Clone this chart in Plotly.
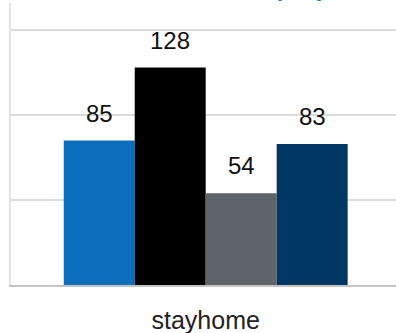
import plotly.graph_objects as go

categories = ["stayhome"]
series_names = ["Series A", "Series B", "Series C", "Series D"]
series_values = [[85], [128], [54], [83]]
series_colors = ["#0a6ebd", "#000000", "#5f6469", "#003763"]
title_text = "Company"

BARGAP = 0.271
FONT = "Liberation Sans, Arial, sans-serif"

fig = go.Figure()
for name, vals, col in zip(series_names, series_values, series_colors):
    fig.add_trace(go.Bar(
        x=categories, y=vals, name=name, marker_color=col,
        marker_line_width=0,
    ))

# value labels above each bar
n = len(series_values)
bw = (1 - BARGAP) / n
annotations = []
for ci, cat in enumerate(categories):
    for i, vals in enumerate(series_values):
        annotations.append(dict(
            x=ci - (1 - BARGAP) / 2 + (i + 0.5) * bw, y=vals[ci],
            xref="x", yref="y", text=str(vals[ci]), showarrow=False,
            yanchor="bottom", yshift=12,
            font=dict(family=FONT, size=24, color="#111111"),
        ))

annotations.append(dict(
    text="<b>" + title_text + "</b>", xref="paper", yref="paper",
    x=(226 - 11) / 385, y=1, xanchor="left", yanchor="bottom",
    showarrow=False, yshift=0,
    font=dict(size=22, color="#1a78cc", family=FONT),
))

fig.update_layout(
    width=396, height=333,
    margin=dict(l=11, r=0, t=3, b=48),
    paper_bgcolor="white", plot_bgcolor="white",
    barmode="group", bargap=BARGAP, bargroupgap=0,
    showlegend=False,
    font=dict(family=FONT),
    xaxis=dict(
        type="category", range=[-0.5, 0.4887],
        showline=True, linecolor="#c4c4c4", linewidth=2,
        showgrid=False, ticks="", ticklabelstandoff=12,
        tickfont=dict(size=25, color="#222222"),
    ),
    yaxis=dict(
        range=[0, 166], dtick=50, showticklabels=False,
        showgrid=True, gridcolor="#dcdcdc", gridwidth=1.5,
        showline=True, linecolor="#e2e2e2", linewidth=1.5,
        zeroline=False, ticks="",
    ),
    annotations=annotations,
)

fig.write_html("out.html")
